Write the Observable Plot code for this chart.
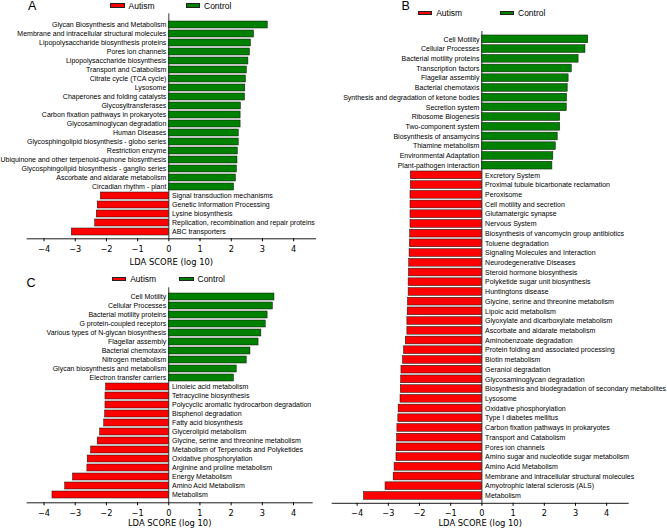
<!DOCTYPE html>
<html><head><meta charset="utf-8">
<script src="https://cdn.jsdelivr.net/npm/d3@7"></script>
<script src="https://cdn.jsdelivr.net/npm/@observablehq/plot@0.6"></script>
<style>
html,body{margin:0;padding:0;background:#fff;}
#chart{position:relative;width:667px;height:528px;overflow:hidden;font-family:"Liberation Sans",Arial,sans-serif;color:#000;}
.letter{position:absolute;font-size:12.5px;line-height:1;}
.sw{position:absolute;height:4.6px;width:14.5px;box-sizing:border-box;border:0.6px solid #222;}
.lt{position:absolute;font-size:8.5px;line-height:1;transform:translateY(-50%);white-space:nowrap;}
#chart svg{position:absolute;overflow:visible;}
</style></head><body><div id="chart"></div>
<script>
const groups = ["Autism", "Control"];
const groupColors = ["#ff0000", "#008000"];
const xTicks = [-4, -3, -2, -1, 0, 1, 2, 3, 4];
const axisTitle = "LDA SCORE (log 10)";
const panelLetters = ["A", "B", "C"];

// Panel A
const aControlLabels = ["Glycan Biosynthesis and Metabolism","Membrane and intracellular structural molecules","Lipopolysaccharide biosynthesis proteins","Pores ion channels","Lipopolysaccharide biosynthesis","Transport and Catabolism","Citrate cycle (TCA cycle)","Lysosome","Chaperones and folding catalysts","Glycosyltransferases","Carbon fixation pathways in prokaryotes","Glycosaminoglycan degradation","Human Diseases","Glycosphingolipid biosynthesis - globo series","Restriction enzyme","Ubiquinone and other terpenoid-quinone biosynthesis","Glycosphingolipid biosynthesis - ganglio series","Ascorbate and aldarate metabolism","Circadian rhythm - plant"];
const aControlScores = [3.17,2.73,2.63,2.60,2.55,2.50,2.47,2.45,2.44,2.31,2.30,2.30,2.24,2.24,2.21,2.20,2.18,2.15,2.09];
const aAutismLabels = ["Signal transduction mechanisms","Genetic Information Processing","Lysine biosynthesis","Replication, recombination and repair proteins","ABC transporters"];
const aAutismScores = [-2.18,-2.28,-2.31,-2.36,-3.11];

// Panel B
const bControlLabels = ["Cell Motility","Cellular Processes","Bacterial motility proteins","Transcription factors","Flagellar assembly","Bacterial chemotaxis","Synthesis and degradation of ketone bodies","Secretion system","Ribosome Biogenesis","Two-component system","Biosynthesis of ansamycins","Thiamine metabolism","Environmental Adaptation","Plant-pathogen interaction"];
const bControlScores = [3.41,3.32,3.10,2.88,2.78,2.75,2.73,2.72,2.51,2.51,2.43,2.37,2.29,2.26];
const bAutismLabels = ["Excretory System","Proximal tubule bicarbonate reclamation","Peroxisome","Cell motility and secretion","Glutamatergic synapse","Nervous System","Biosynthesis of vancomycin group antibiotics","Toluene degradation","Signaling Molecules and Interaction","Neurodegenerative Diseases","Steroid hormone biosynthesis","Polyketide sugar unit biosynthesis","Huntingtons disease","Glycine, serine and threonine metabolism","Lipoic acid metabolism","Glyoxylate and dicarboxylate metabolism","Ascorbate and aldarate metabolism","Aminobenzoate degradation","Protein folding and associated processing","Biotin metabolism","Geraniol degradation","Glycosaminoglycan degradation","Biosynthesis and biodegradation of secondary metabolites","Lysosome","Oxidative phosphorylation","Type I diabetes mellitus","Carbon fixation pathways in prokaryotes","Transport and Catabolism","Pores ion channels","Amino sugar and nucleotide sugar metabolism","Amino Acid Metabolism","Membrane and intracellular structural molecules","Amyotrophic lateral sclerosis (ALS)","Metabolism"];
const bAutismScores = [-2.28,-2.28,-2.29,-2.29,-2.29,-2.29,-2.30,-2.31,-2.32,-2.33,-2.34,-2.35,-2.35,-2.37,-2.38,-2.39,-2.39,-2.44,-2.50,-2.53,-2.58,-2.59,-2.60,-2.61,-2.67,-2.68,-2.71,-2.72,-2.73,-2.74,-2.80,-2.83,-3.09,-3.78];

// Panel C
const cControlLabels = ["Cell Motility","Cellular Processes","Bacterial motility proteins","G protein-coupled receptors","Various types of N-glycan biosynthesis","Flagellar assembly","Bacterial chemotaxis","Nitrogen metabolism","Glycan biosynthesis and metabolism","Electron transfer carriers"];
const cControlScores = [3.39,3.34,3.17,3.11,2.97,2.88,2.62,2.50,2.18,2.09];
const cAutismLabels = ["Linoleic acid metabolism","Tetracycline biosynthesis","Polycyclic aromatic hydrocarbon degradation","Bisphenol degradation","Fatty acid biosynthesis","Glycerolipid metabolism","Glycine, serine and threonine metabolism","Metabolism of Terpenoids and Polyketides","Oxidative phosphorylation","Arginine and proline metabolism","Energy Metabolism","Amino Acid Metabolism","Metabolism"];
const cAutismScores = [-2.01,-2.03,-2.03,-2.04,-2.07,-2.20,-2.28,-2.49,-2.60,-2.61,-3.07,-3.32,-3.73];

const chart = document.getElementById("chart");

function makePanel(cfg) {
  const ctrl = cfg.controlLabels.map((label, i) => ({label, score: cfg.controlScores[i], group: groups[1]}));
  const aut = cfg.autismLabels.map((label, i) => ({label, score: cfg.autismScores[i], group: groups[0]}));
  const rows = ctrl.concat(aut);
  const svg = Plot.plot({
    width: cfg.width, height: cfg.height,
    marginTop: cfg.marginTop, marginBottom: cfg.marginBottom,
    marginLeft: cfg.marginLeft, marginRight: cfg.marginRight,
    style: {fontFamily: "'DejaVu Sans', sans-serif", fontSize: "8.2px", color: "#000", background: "transparent"},
    x: {domain: cfg.xDomain, ticks: xTicks, tickSize: 3, tickPadding: 4, label: null},
    y: {domain: rows.map(d => d.label), axis: null, paddingInner: 0.2, paddingOuter: 0.1, insetTop: cfg.insetTop, insetBottom: cfg.insetBottom},
    color: {domain: groups, range: groupColors},
    marks: [
      Plot.ruleX([0], {stroke: "#000", strokeWidth: 0.8}),
      Plot.barX(rows, {x: "score", y: "label", fill: "group", stroke: "#111", strokeWidth: 0.5}),
      Plot.frame({anchor: "bottom", stroke: "#000", strokeWidth: 0.9}),
      Plot.text(ctrl, {x: 0, y: "label", text: "label", textAnchor: "end", dx: -2.5, fontFamily: "'Liberation Sans', Arial, sans-serif", fontSize: 7, fill: "#000"}),
      Plot.text(aut, {x: 0, y: "label", text: "label", textAnchor: "start", dx: 3.2, fontFamily: "'Liberation Sans', Arial, sans-serif", fontSize: 7, fill: "#000"}),
      Plot.text([axisTitle], {frameAnchor: "bottom", lineAnchor: "middle", dy: cfg.titleDy, text: d => d, fontFamily: "'DejaVu Sans', sans-serif", fontSize: 8.4, fill: "#000"})
    ]
  });
  svg.style.left = cfg.left + "px";
  svg.style.top = cfg.top + "px";
  chart.appendChild(svg);
}

function addLegend(letter, lx, ly, redX, greenX, boxTop, textY) {
  const L = document.createElement("div");
  L.className = "letter"; L.textContent = letter;
  L.style.left = lx + "px"; L.style.top = ly + "px";
  chart.appendChild(L);
  [[redX, 0], [greenX, 1]].forEach(([x, i]) => {
    const s = document.createElement("div");
    s.className = "sw"; s.style.left = x + "px"; s.style.top = boxTop + "px";
    s.style.background = groupColors[i];
    chart.appendChild(s);
    const t = document.createElement("div");
    t.className = "lt"; t.textContent = groups[i];
    t.style.left = (x + 18.5) + "px"; t.style.top = textY + "px";
    chart.appendChild(t);
  });
}

makePanel({controlLabels: aControlLabels, controlScores: aControlScores, autismLabels: aAutismLabels, autismScores: aAutismScores,
  left: 0, top: 0, width: 330, height: 270, marginTop: 13.3, marginBottom: 31.7, marginLeft: 26.7, marginRight: 15,
  xDomain: [-4.54, 4.70], insetTop: 4.8, insetBottom: 0.7, titleDy: 23});
makePanel({controlLabels: bControlLabels, controlScores: bControlScores, autismLabels: bAutismLabels, autismScores: bAutismScores,
  left: 330, top: 0, width: 337, height: 528, marginTop: 31, marginBottom: 25.2, marginLeft: 1.7, marginRight: 39.3,
  xDomain: [-4.80, 4.69], insetTop: 3.0, insetBottom: 2.5, titleDy: 20.2});
makePanel({controlLabels: cControlLabels, controlScores: cControlScores, autismLabels: cAutismLabels, autismScores: cAutismScores,
  left: 0, top: 265, width: 330, height: 263, marginTop: 22.3, marginBottom: 25.7, marginLeft: 26.7, marginRight: 18.3,
  xDomain: [-4.54, 4.60], insetTop: 4.5, insetBottom: 2.1, titleDy: 20.8});

addLegend(panelLetters[0], 28, -0.3, 110, 185.5, 3.3, 5.5);
addLegend(panelLetters[1], 401.5, 0.3, 417.7, 499.5, 10.9, 13);
addLegend(panelLetters[2], 26.5, 276.5, 111.7, 179, 276.8, 279);
</script></body></html>
